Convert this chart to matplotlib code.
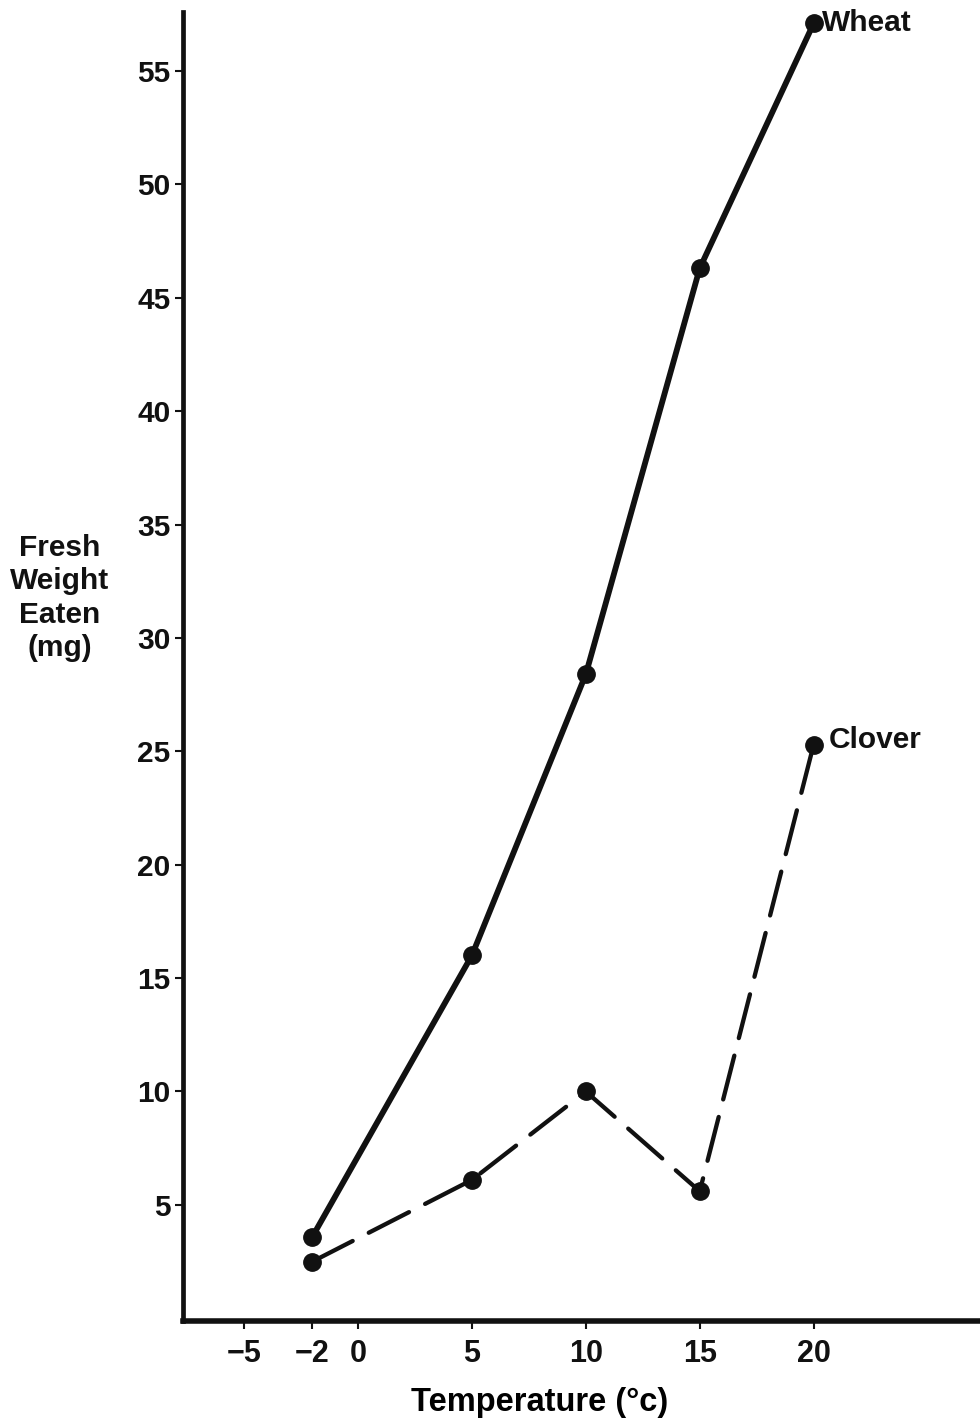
import matplotlib
matplotlib.use("Agg")
import matplotlib.pyplot as plt

temperature = [-2, 5, 10, 15, 20]
wheat = [3.6, 16.0, 28.4, 46.3, 57.1]
clover = [2.5, 6.1, 10.0, 5.6, 25.3]
xtick_values = [-5, -2, 0, 5, 10, 15, 20]
ytick_values = [5, 10, 15, 20, 25, 30, 35, 40, 45, 50, 55]

FONT = ['Liberation Sans', 'DejaVu Sans']
INK = '#111111'

fig = plt.figure(figsize=(9.8, 14.23), dpi=100)
ax = fig.add_axes([183/980, 1 - 1321/1423, 1 - 183/980, (1321 - 12)/1423])

ax.plot(temperature, wheat, color=INK, lw=4.2, marker='o', ms=12.5,
        solid_capstyle='round', zorder=3)
ax.plot(temperature, clover, color=INK, lw=3.1, marker='o', ms=12.5,
        linestyle=(0, (10.5, 4.2)), dash_capstyle='round', zorder=3)

ax.text(20.35, 57.1, 'Wheat', fontsize=21.5, fontweight='bold', family=FONT,
        va='center', ha='left', color=INK)
ax.text(20.65, 25.5, 'Clover', fontsize=21.5, fontweight='bold', family=FONT,
        va='center', ha='left', color=INK)

ax.set_xlim(-7.68, 27.3)
ax.set_ylim(-0.12, 57.6)

for s in ['top', 'right']:
    ax.spines[s].set_visible(False)
ax.spines['left'].set_linewidth(3.4)
ax.spines['bottom'].set_linewidth(4.0)
ax.spines['left'].set_color(INK)
ax.spines['bottom'].set_color(INK)

ax.set_xticks(xtick_values)
ax.set_xticklabels([str(v).replace('-', '\u2212') for v in xtick_values],
                   fontsize=22, fontweight='bold', family=FONT)
ax.set_yticks(ytick_values)
ax.set_yticklabels([str(v) for v in ytick_values], fontsize=21.5, fontweight='bold',
                   family=FONT)
ax.tick_params(axis='x', direction='out', length=6, width=1.5, pad=7, colors=INK)
ax.tick_params(axis='y', direction='out', length=6, width=1.5, pad=3, colors=INK)

ax.set_xlabel('Temperature (\u00b0c)', fontsize=23.5, fontweight='bold', family=FONT)
ax.xaxis.set_label_coords((540 - 183) / (980 - 183), -66 / (1321 - 12))

fig.text(60/980, 1 - 598/1423, 'Fresh\nWeight\nEaten\n(mg)', fontsize=21.5, fontweight='bold',
         family=FONT, ha='center', va='center', linespacing=1.25, color=INK)

fig.savefig('out.png', dpi=100)
